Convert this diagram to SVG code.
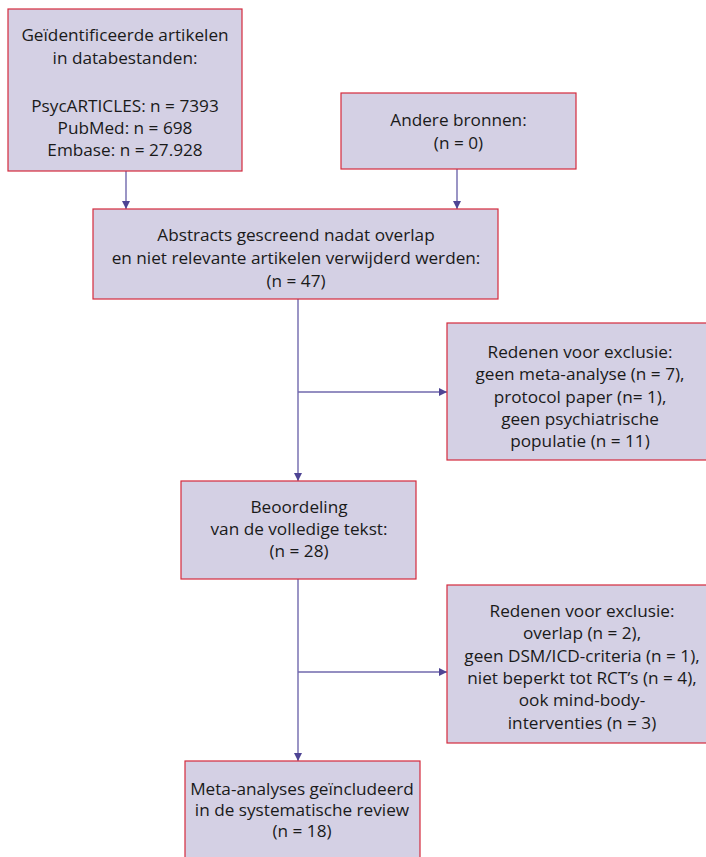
<svg xmlns="http://www.w3.org/2000/svg" width="706" height="857" viewBox="0 0 706 857">
<style>
.box{fill:#d4d0e4;stroke:#d42a3d;stroke-width:1.2}
.t{font-family:"Open Sans","Noto Sans","Liberation Sans",sans-serif;font-size:17.2px;fill:#1a1a1a;text-anchor:middle}
.c{stroke:#7068ad;stroke-width:1.4;fill:none}
</style>
<defs>
<marker id="ah" viewBox="0 0 8 8" refX="8" refY="4" markerWidth="8" markerHeight="8" markerUnits="userSpaceOnUse" orient="auto">
<path d="M0,0 L8,4 L0,8 Z" fill="#4e4494"/>
</marker>
</defs>
<rect width="706" height="857" fill="#ffffff"/>
<g id="connectors">
<line class="c" x1="126" y1="171" x2="126" y2="209" marker-end="url(#ah)"/>
<line class="c" x1="457" y1="169" x2="457" y2="209" marker-end="url(#ah)"/>
<line class="c" x1="298" y1="299" x2="298" y2="481" marker-end="url(#ah)"/>
<line class="c" x1="298" y1="392" x2="447" y2="392" marker-end="url(#ah)"/>
<line class="c" x1="298" y1="579" x2="298" y2="761" marker-end="url(#ah)"/>
<line class="c" x1="298" y1="672" x2="447" y2="672" marker-end="url(#ah)"/>
</g>
<g id="n1">
<rect class="box" x="8" y="9" width="234" height="162"/>
<text class="t" x="125" y="41">Geïdentificeerde artikelen</text>
<text class="t" x="125" y="64">in databestanden:</text>
<text class="t" x="125" y="112">PsycARTICLES: n = 7393</text>
<text class="t" x="125" y="134">PubMed: n = 698</text>
<text class="t" x="125" y="156">Embase: n = 27.928</text>
</g>
<g id="n2">
<rect class="box" x="341" y="93" width="235" height="76"/>
<text class="t" x="458.5" y="126">Andere bronnen:</text>
<text class="t" x="458.5" y="149">(n = 0)</text>
</g>
<g id="n3">
<rect class="box" x="93" y="209" width="405" height="90"/>
<text class="t" x="296" y="241">Abstracts gescreend nadat overlap</text>
<text class="t" x="296" y="264">en niet relevante artikelen verwijderd werden:</text>
<text class="t" x="296" y="287">(n = 47)</text>
</g>
<g id="n4">
<rect class="box" x="447" y="323" width="270" height="137"/>
<text class="t" x="580" y="358">Redenen voor exclusie:</text>
<text class="t" x="580" y="380">geen meta-analyse (n = 7),</text>
<text class="t" x="580" y="403">protocol paper (n= 1),</text>
<text class="t" x="580" y="425">geen psychiatrische</text>
<text class="t" x="580" y="447">populatie (n = 11)</text>
</g>
<g id="n5">
<rect class="box" x="181" y="481" width="235" height="98"/>
<text class="t" x="299" y="513">Beoordeling</text>
<text class="t" x="299" y="535">van de volledige tekst:</text>
<text class="t" x="299" y="557">(n = 28)</text>
</g>
<g id="n6">
<rect class="box" x="447" y="585" width="270" height="158"/>
<text class="t" x="582" y="617">Redenen voor exclusie:</text>
<text class="t" x="582" y="639">overlap (n = 2),</text>
<text class="t" x="582" y="662">geen DSM/ICD-criteria (n = 1),</text>
<text class="t" x="582" y="684">niet beperkt tot RCT’s (n = 4),</text>
<text class="t" x="582" y="706">ook mind-body-</text>
<text class="t" x="582" y="729">interventies (n = 3)</text>
</g>
<g id="n7">
<rect class="box" x="185" y="761" width="235" height="110"/>
<text class="t" x="302" y="795">Meta-analyses geïncludeerd</text>
<text class="t" x="302" y="816">in de systematische review</text>
<text class="t" x="302" y="837">(n = 18)</text>
</g>
</svg>
